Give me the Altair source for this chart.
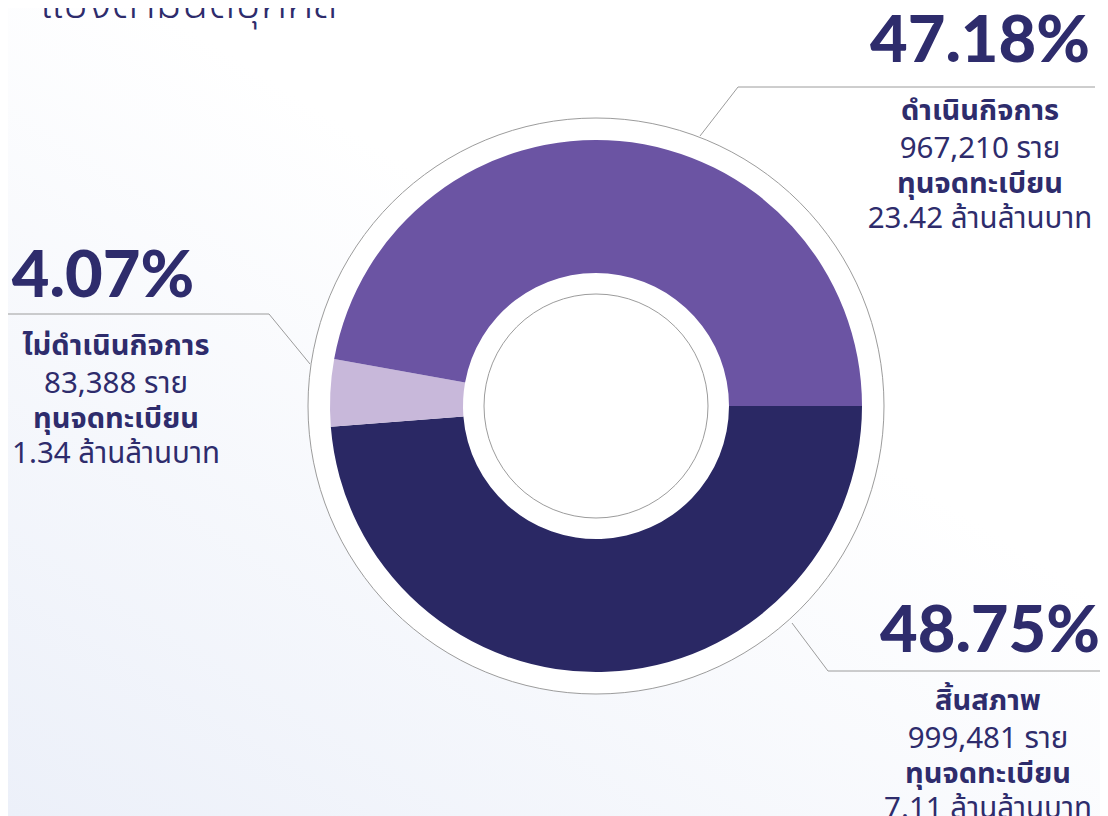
import math
import altair as alt
import pandas as pd

W, H = 1092, 808

# ---- data ----
categories = ["สิ้นสภาพ", "ไม่ดำเนินกิจการ", "ดำเนินกิจการ"]
shares = [48.75, 4.07, 47.18]
pct_labels = ["48.75%", "4.07%", "47.18%"]
counts = ["999,481 ราย", "83,388 ราย", "967,210 ราย"]
capital = ["7.11 ล้านล้านบาท", "1.34 ล้านล้านบาท", "23.42 ล้านล้านบาท"]
colors = ["#2A2864", "#C8B8DA", "#6B54A3"]
title_text = "แบ่งตามนิติบุคคล"

# label block anchors (annotation placement)
pct_x = [982, 95, 972]
text_x = [980, 108, 972]
block_y = [624, 269, 34]
line_offsets = [69, 107, 142, 177]

# leader lines (annotation placement)
leader_id = [0, 0, 0, 1, 1, 1, 2, 2, 2]
leader_ord = [0, 1, 2, 0, 1, 2, 0, 1, 2]
leader_x = [784, 820, 1092, 302, 261, 0, 692, 730, 1087]
leader_y = [615, 663, 663, 356, 306, 306, 128, 79, 79]

CX, CY = 588, 398
R_OUT, R_IN = 266, 133
RING_OUT, RING_IN = 288, 112

NAVY_TXT = "#2E2C6C"
GRAY = "#9C9C9C"
THAI = "'Noto Sans Thai', 'Noto Sans Thai Looped', Loma, Garuda, 'Noto Sans', sans-serif"
NUM = "Lato, Inter, 'Noto Sans', sans-serif"

donut_df = pd.DataFrame({"cat": categories, "share": shares, "idx": [0, 1, 2]})

rows = []
for i in range(3):
    rows.append({"x": pct_x[i], "y": block_y[i], "t": pct_labels[i], "k": "pct"})
    rows.append({"x": text_x[i], "y": block_y[i] + line_offsets[0], "t": categories[i], "k": "bold"})
    rows.append({"x": text_x[i], "y": block_y[i] + line_offsets[1], "t": counts[i], "k": "reg"})
    rows.append({"x": text_x[i], "y": block_y[i] + line_offsets[2], "t": "ทุนจดทะเบียน", "k": "bold"})
    rows.append({"x": text_x[i], "y": block_y[i] + line_offsets[3], "t": capital[i], "k": "reg"})
text_df = pd.DataFrame(rows)

leader_df = pd.DataFrame({"id": leader_id, "o": leader_ord, "x": leader_x, "y": leader_y})

xs = alt.Scale(domain=[0, W], nice=False, zero=False)
ys = alt.Scale(domain=[0, H], nice=False, zero=False, reverse=True)
X = lambda: alt.X("x:Q", scale=xs, axis=None)
Y = lambda: alt.Y("y:Q", scale=ys, axis=None)

one = pd.DataFrame({"a": [0]})

bg = alt.Chart(one).mark_rect(
    fill=alt.LinearGradient(
        gradient="linear",
        stops=[alt.GradientStop(color="#ECF0F9", offset=0),
               alt.GradientStop(color="#FFFFFF", offset=1)],
        x1=0, y1=1, x2=0.55, y2=0.35,
    )
).encode(x=alt.value(0), x2=alt.value(W), y=alt.value(0), y2=alt.value(H))

outer_ring = alt.Chart(one).mark_arc(
    theta=0, theta2=2 * math.pi, radius=RING_OUT, fill="#FFFFFF", stroke=GRAY, strokeWidth=1
).encode(x=alt.value(CX), y=alt.value(CY))

donut = alt.Chart(donut_df).mark_arc(radius=R_OUT, radius2=R_IN).encode(
    theta=alt.Theta("share:Q", stack=True, scale=alt.Scale(range=[math.pi / 2, math.pi / 2 + 2 * math.pi])),
    color=alt.Color("cat:N", scale=alt.Scale(domain=categories, range=colors), legend=None),
    order=alt.Order("idx:Q"),
    x=alt.value(CX), y=alt.value(CY),
)

inner_ring = alt.Chart(one).mark_arc(
    theta=0, theta2=2 * math.pi, radius=RING_IN, fillOpacity=0, stroke=GRAY, strokeWidth=1
).encode(x=alt.value(CX), y=alt.value(CY))

leaders = alt.Chart(leader_df).mark_line(color=GRAY, strokeWidth=1).encode(
    x=X(), y=Y(), detail="id:N", order="o:Q"
)

pct = alt.Chart(text_df).transform_filter("datum.k == 'pct'").mark_text(
    font=NUM, fontSize=65, fontWeight=900, color=NAVY_TXT, align="center", baseline="middle"
).encode(x=X(), y=Y(), text="t:N")

bold = alt.Chart(text_df).transform_filter("datum.k == 'bold'").mark_text(
    font=THAI, fontSize=29, fontWeight="bold", color=NAVY_TXT, align="center", baseline="middle"
).encode(x=X(), y=Y(), text="t:N")

reg = alt.Chart(text_df).transform_filter("datum.k == 'reg'").mark_text(
    font=THAI, fontSize=29.5, fontWeight="normal", color=NAVY_TXT, align="center", baseline="middle"
).encode(x=X(), y=Y(), text="t:N")

title = alt.Chart(pd.DataFrame({"t": [title_text]})).mark_text(
    font=THAI, fontSize=43, fontWeight=300, color=NAVY_TXT, align="left", baseline="alphabetic"
).encode(x=alt.value(32), y=alt.value(10), text="t:N")

chart = alt.layer(bg, outer_ring, donut, inner_ring, leaders, pct, bold, reg, title).properties(
    width=W, height=H, padding=0, autosize=alt.AutoSizeParams(type="none")
).configure_view(stroke=None)

chart.save("out.html", embed_options={"renderer": "svg", "actions": False})
